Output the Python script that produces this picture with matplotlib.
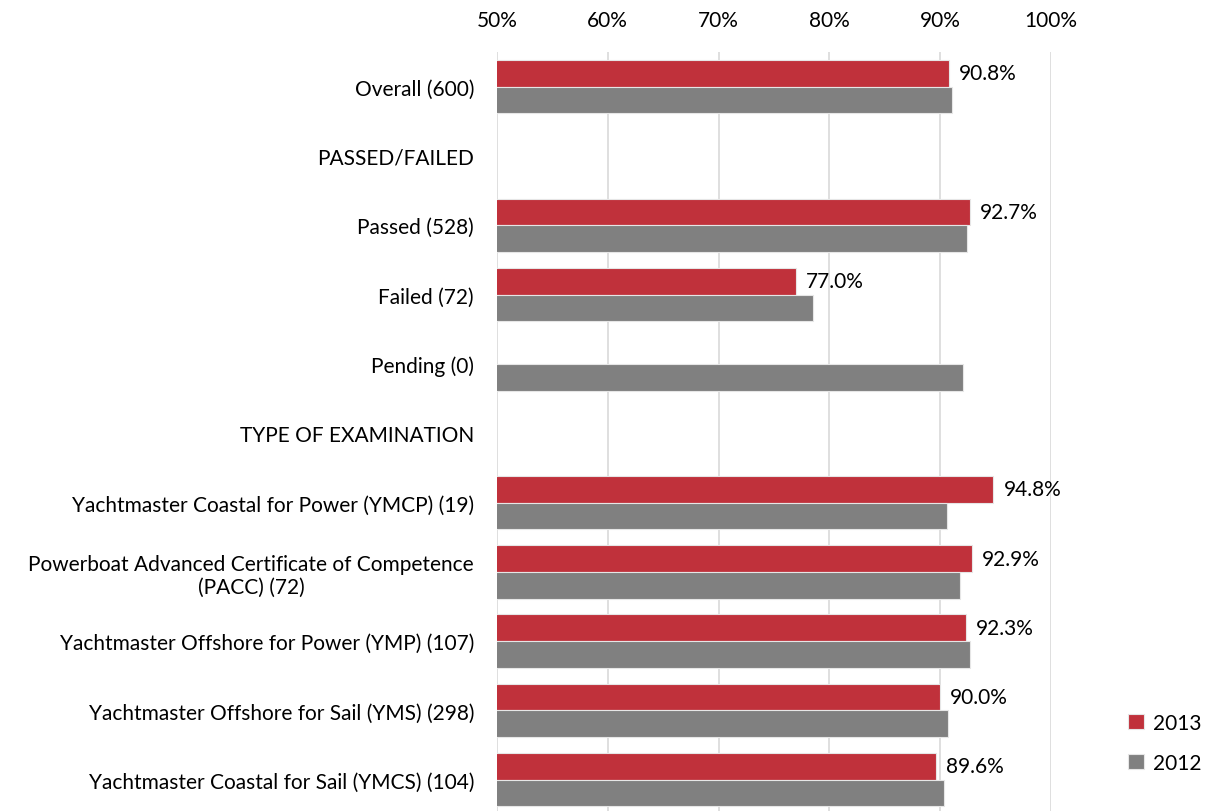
import numpy as np
import matplotlib.pyplot as plt

plt.rcParams['font.family'] = ['Lato', 'DejaVu Sans']

categories = [
    "Overall (600)",
    "PASSED/FAILED",
    "Passed (528)",
    "Failed (72)",
    "Pending (0)",
    "TYPE OF EXAMINATION",
    "Yachtmaster Coastal for Power (YMCP) (19)",
    "Powerboat Advanced Certificate of Competence\n(PACC) (72)",
    "Yachtmaster Offshore for Power (YMP) (107)",
    "Yachtmaster Offshore for Sail (YMS) (298)",
    "Yachtmaster Coastal for Sail (YMCS) (104)",
]
values_2013 = [90.8, np.nan, 92.7, 77.0, np.nan, np.nan, 94.8, 92.9, 92.3, 90.0, 89.6]
values_2012 = [91.1, np.nan, 92.4, 78.5, 92.1, np.nan, 90.6, 91.8, 92.7, 90.7, 90.3]
xticks = [50, 60, 70, 80, 90, 100]

red = "#C0313B"
grey = "#808080"
fs = 15

fig = plt.figure(figsize=(12.11, 8.12), dpi=100)
ax = fig.add_axes([0.4104, 0.0, 0.4575, 0.9347])

y = np.arange(len(categories))
h = 0.385
ax.barh(y - h / 2, values_2013, height=h, left=0, color=red,
        edgecolor="#E6E6E6", linewidth=0.8, label="2013", zorder=3)
ax.barh(y + h / 2, values_2012, height=h, left=0, color=grey,
        edgecolor="#E6E6E6", linewidth=0.8, label="2012", zorder=3)

for yi, v in zip(y, values_2013):
    if not np.isnan(v):
        ax.text(v + 0.9, yi - h / 2, f"{v:.1f}%", va="center", ha="left",
                fontsize=fs, color="black", zorder=4)

ax.set_xlim(50, 100)
ax.set_ylim(10.45, -0.5)
ax.set_xticks(xticks)
ax.set_xticklabels([f"{t}%" for t in xticks])
ax.xaxis.tick_top()
ax.set_yticks(y)
ax.set_yticklabels(categories, multialignment="center")
ax.tick_params(axis="both", length=0, labelsize=fs)
ax.tick_params(axis="y", pad=16.5)
ax.tick_params(axis="x", pad=16)
for s in ax.spines.values():
    s.set_visible(False)
ax.grid(axis="x", color="#D9D9D9", linewidth=1.2, zorder=0)
ax.set_axisbelow(True)

fig.legend(loc="lower right", bbox_to_anchor=(1.008, 0.024), frameon=False,
           fontsize=fs, handlelength=0.75, handleheight=0.75, handletextpad=0.45,
           labelspacing=0.95)

fig.savefig("out.png", dpi=100)
